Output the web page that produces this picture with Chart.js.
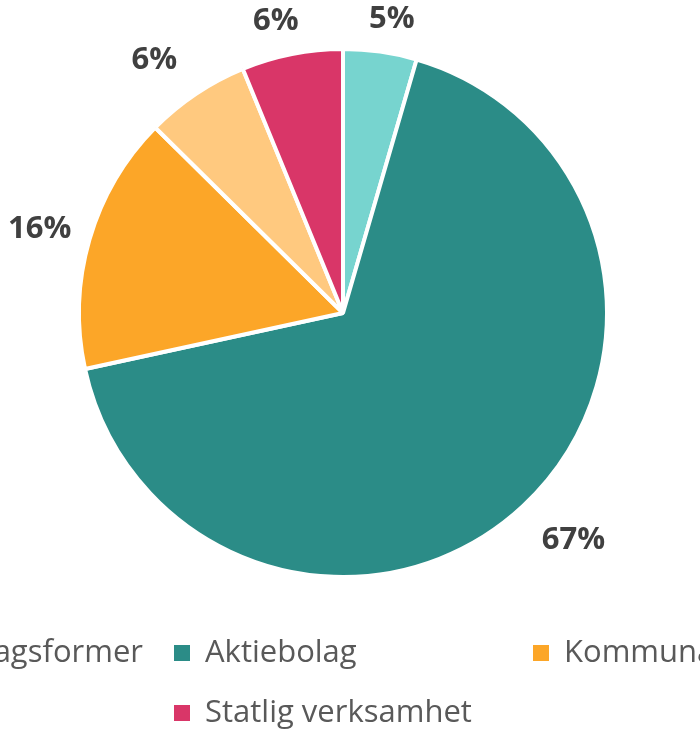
<!DOCTYPE html>
<html lang="sv">
<head>
<meta charset="utf-8">
<title>Företagsformer</title>
<script src="https://cdn.jsdelivr.net/npm/chart.js@4/dist/chart.umd.min.js"></script>
<style>
    html, body { margin: 0; padding: 0; background: #fff; overflow: hidden; }
    #wrap { position: relative; width: 700px; height: 733px; overflow: hidden; }
    #pieChart { position: absolute; left: -207px; top: 0; }
</style>
</head>
<body>
<div id="wrap">
    <canvas id="pieChart" width="1100" height="733"></canvas>
</div>
<script>
// Data (percent of total)
const categories = ['Övriga bolagsformer', 'Aktiebolag', 'Kommunal verksamhet', 'Regioner', 'Statlig verksamhet'];
const shares = [4.5, 67.1, 15.8, 6.4, 6.2];
const sliceColors = ['#77D4CF', '#2B8C87', '#FCA628', '#FFC97F', '#D93668'];

// Percent labels placed outside each slice (roughly like Excel "outside end")
const outsideLabels = {
    id: 'outsideLabels',
    afterDatasetsDraw(chart) {
        const ctx = chart.ctx;
        const meta = chart.getDatasetMeta(0);
        const size = 31;
        ctx.save();
        ctx.font = `bold ${size}px "Open Sans"`;
        ctx.fillStyle = '#404040';
        ctx.textAlign = 'center';
        ctx.textBaseline = 'alphabetic';
        meta.data.forEach((arc, i) => {
            const p = arc.getProps(['x', 'y', 'startAngle', 'endAngle', 'outerRadius'], true);
            const mid = (p.startAngle + p.endAngle) / 2;
            const text = Math.round(chart.data.datasets[0].data[i]) + '%';
            const w = ctx.measureText(text).width;
            const c = Math.cos(mid), s = Math.sin(mid);
            const r = p.outerRadius - 2;
            const clamp = (v, m) => Math.max(-m, Math.min(m, v));
            const cx = p.x + c * r + clamp(c * 85, w / 2 + 20);
            const cy = p.y + s * r + clamp(s * 45, 37);
            ctx.fillText(text, cx, cy + size * 0.357);
        });
        ctx.restore();
    }
};

// Excel-style legend: fixed-width columns, rows left aligned
const gridLegend = {
    id: 'gridLegend',
    afterDraw(chart) {
        const ctx = chart.ctx;
        const colW = 359, startX = 22, rowY = [653, 713];
        ctx.save();
        ctx.font = '31px "Open Sans"';
        ctx.textAlign = 'left';
        ctx.textBaseline = 'alphabetic';
        chart.data.labels.forEach((label, i) => {
            const x = startX + (i % 3) * colW;
            const y = rowY[Math.floor(i / 3)];
            ctx.fillStyle = chart.data.datasets[0].backgroundColor[i];
            ctx.fillRect(x, y - 8, 16, 16);
            ctx.fillStyle = '#595959';
            ctx.fillText(label, x + 31, y + 9);
        });
        ctx.restore();
    }
};

new Chart(document.getElementById('pieChart'), {
    type: 'pie',
    data: {
        labels: categories,
        datasets: [{
            data: shares,
            backgroundColor: sliceColors,
            borderColor: '#ffffff',
            borderWidth: 4,
            hoverOffset: 0
        }]
    },
    options: {
        responsive: false,
        animation: false,
        layout: { padding: { top: 47, bottom: 154, left: 0, right: 0 } },
        plugins: {
            legend: { display: false },
            tooltip: { enabled: false }
        }
    },
    plugins: [outsideLabels, gridLegend]
});
</script>
</body>
</html>
